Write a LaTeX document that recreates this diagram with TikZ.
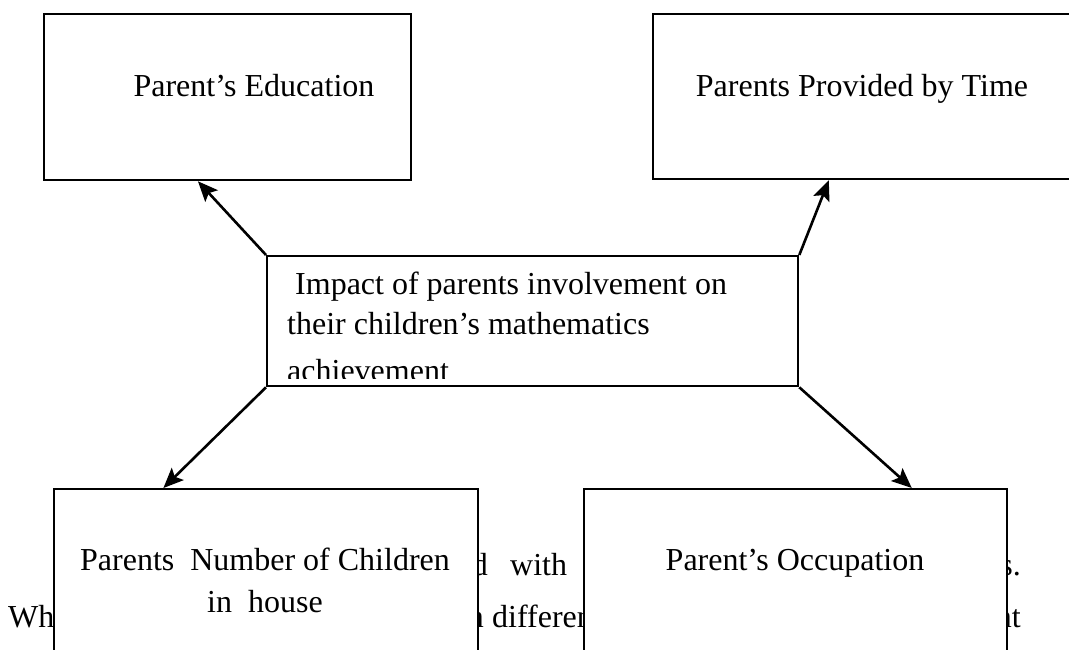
\documentclass[tikz,border=0pt]{standalone}
\usepackage{fontspec}
\setmainfont{Liberation Serif}
\usetikzlibrary{arrows.meta,calc}
\begin{document}
\begin{tikzpicture}[x=1pt,y=-1pt,
  box/.style={draw=black,line width=2.3pt,fill=white,inner sep=0pt,anchor=north west},
  txt/.style={font=\fontsize{32}{38}\selectfont,inner sep=0pt,anchor=base},
  conn/.style={line width=2.6pt,-{Stealth[length=20pt,width=17pt,inset=4pt]}}]
\useasboundingbox (0,0) rectangle (1069,650);
% background paragraph fragments (partly covered by boxes)
\node[txt,anchor=base east] (bga) at (488,575) {ed};
\node[txt,anchor=base west] (bgb) at (510,575) {with};
\node[txt,anchor=base east] (bgc) at (1021,575) {ss.};
\node[txt,anchor=base west] (bgd) at (8,627) {Wh};
\node[txt,anchor=base east] (bge) at (484,627) {in};
\node[txt,anchor=base west] (bgf) at (492,627) {different};
\node[txt,anchor=base east] (bgg) at (1021,627) {nt};
% boxes
\node[box,minimum width=367pt,minimum height=166pt] (edu) at (43,13) {};
\node[box,minimum width=430pt,minimum height=165pt] (time) at (652,13) {};
\node[box,minimum width=531pt,minimum height=130pt] (center) at (266,255) {};
\node[box,minimum width=424pt,minimum height=220pt] (kids) at (53,488) {};
\node[box,minimum width=423pt,minimum height=220pt] (occ) at (583,488) {};
% labels
\node[txt] (edul) at (254,97) {Parent’s Education};
\node[txt] (timel) at (862,97) {Parents Provided by Time};
\node[txt] (kidsl1) at (265,570) {Parents\ \ Number of Children};
\node[txt] (kidsl2) at (265,612) {in\ \ house};
\node[txt] (occl) at (795,570) {Parent’s Occupation};
\begin{scope}
  \clip (266,255) rectangle (797,378);
  \node[txt,anchor=base west] (cl1) at (295,294) {Impact of parents involvement on};
  \node[txt,anchor=base west] (cl2) at (287,334) {their children’s mathematics};
  \node[txt,anchor=base west] (cl3) at (287,381) {achievement};
\end{scope}
% connectors
\draw[conn] (center.north west) -- ($(edu.south west)!0.4196!(edu.south east)$);
\draw[conn] (center.north east) -- ($(time.south west)!0.409!(time.south east)$);
\draw[conn] (center.south west) -- ($(kids.north west)!0.259!(kids.north east)$);
\draw[conn] (center.south east) -- ($(occ.north west)!0.773!(occ.north east)$);
\end{tikzpicture}
\end{document}
